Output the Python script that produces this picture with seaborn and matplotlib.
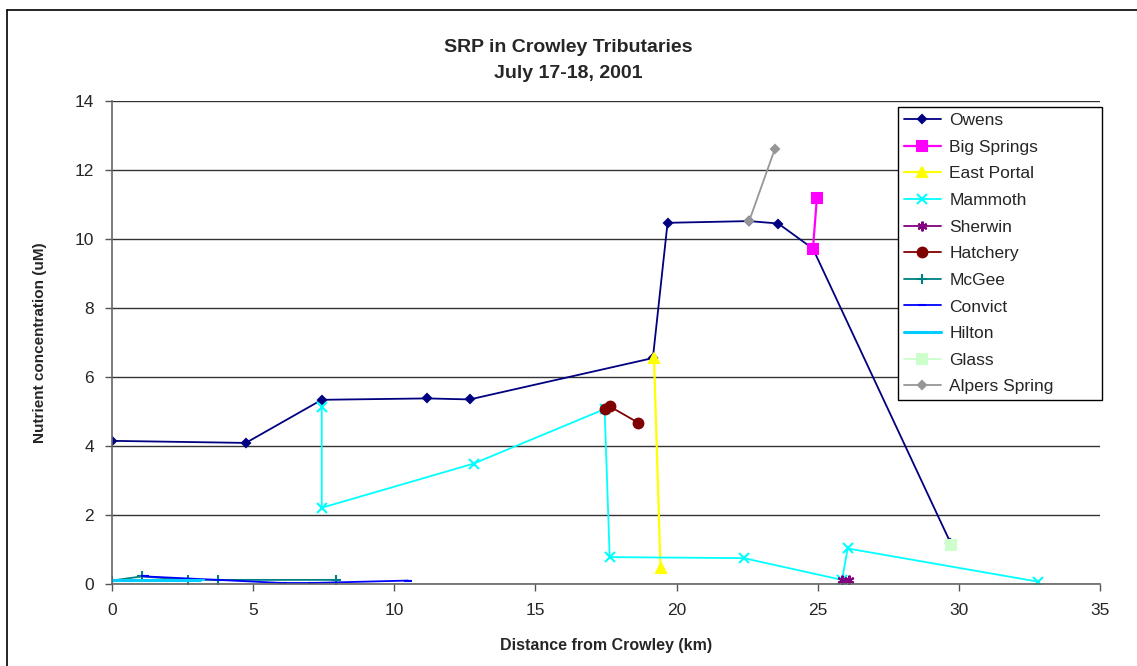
import matplotlib
matplotlib.use("Agg")
import matplotlib.pyplot as plt
import seaborn as sns
import pandas as pd
from matplotlib.lines import Line2D

# Distance from Crowley (km) and SRP (uM) per tributary
owens_x = [0, 4.74, 7.43, 11.17, 12.67, 19.16, 19.68, 22.56, 23.6, 24.83, 29.7]
owens_y = [4.15, 4.09, 5.34, 5.38, 5.35, 6.55, 10.47, 10.52, 10.45, 9.72, 1.2]
big_springs_x = [24.83, 24.97]
big_springs_y = [9.72, 11.2]
east_portal_x = [19.2, 19.43]
east_portal_y = [6.55, 0.46]
mammoth_x = [7.43, 7.43, 12.81, 17.45, 17.63, 22.38, 25.86, 26.06, 32.79]
mammoth_y = [5.13, 2.21, 3.49, 5.07, 0.78, 0.75, 0.12, 1.03, 0.07]
sherwin_x = [25.85, 26.1]
sherwin_y = [0.12, 0.12]
hatchery_x = [17.45, 17.63, 18.65]
hatchery_y = [5.07, 5.15, 4.67]
mcgee_x = [0, 1.05, 2.68, 3.77, 7.95]
mcgee_y = [0.1, 0.22, 0.12, 0.12, 0.12]
convict_x = [1.17, 6.04, 7.07, 10.49]
convict_y = [0.22, 0.03, 0.03, 0.1]
hilton_x = [0, 0.9, 2.1, 3.1]
hilton_y = [0.12, 0.12, 0.12, 0.12]
glass_x = [29.71]
glass_y = [1.12]
alpers_x = [22.57, 23.48]
alpers_y = [10.52, 12.61]

series = [
    ("Owens", owens_x, owens_y, "#000080", "D", 4.5, 1.3),
    ("Big Springs", big_springs_x, big_springs_y, "#FF00FF", "s", 7, 1.6),
    ("East Portal", east_portal_x, east_portal_y, "#FFFF00", "^", 7, 1.6),
    ("Mammoth", mammoth_x, mammoth_y, "#00FFFF", "x", 6.5, 1.3),
    ("Sherwin", sherwin_x, sherwin_y, "#800080", (6, 2, 0), 7, 1.3),
    ("Hatchery", hatchery_x, hatchery_y, "#800000", "o", 7, 1.3),
    ("McGee", mcgee_x, mcgee_y, "#008080", "+", 7, 1.3),
    ("Convict", convict_x, convict_y, "#0000FF", "_", 6, 1.3),
    ("Hilton", hilton_x, hilton_y, "#00CCFF", "_", 7, 2.2),
    ("Glass", glass_x, glass_y, "#CCFFCC", "s", 7, 1.3),
    ("Alpers Spring", alpers_x, alpers_y, "#969696", "D", 4.5, 1.3),
]

sns.set_style("white")
plt.rcParams['font.family'] = ['Liberation Sans', 'DejaVu Sans']

fig = plt.figure(figsize=(11.37, 6.66), dpi=100)
ax = fig.add_axes([0.0985, 0.1231, 0.8690, 0.7252])

for name, xs, ys, col, mk, ms, lw in series:
    df = pd.DataFrame({"x": xs, "y": ys})
    sns.lineplot(data=df, x="x", y="y", ax=ax, sort=False, estimator=None,
                 color=col, marker=mk, markersize=ms, linewidth=lw,
                 markeredgecolor=col, markeredgewidth=1.5, label=name)

ax.set_xlim(0, 35)
ax.set_ylim(0, 14)
ax.set_xticks(range(0, 36, 5))
ax.set_yticks(range(0, 15, 2))
ax.tick_params(axis="both", labelsize=12.5, length=5, width=1, color="#555555",
               direction="out", bottom=True, left=True)
ax.tick_params(axis="x", pad=9)
ax.tick_params(axis="y", pad=8)
ax.yaxis.grid(True, color="#333333", linewidth=1)
ax.set_axisbelow(True)
for s in ["top", "right"]:
    ax.spines[s].set_visible(False)
for s in ["left", "bottom"]:
    ax.spines[s].set_color("#666666")
    ax.spines[s].set_linewidth(1.2)

ax.set_xlabel("Distance from Crowley (km)", fontsize=11.5, fontweight="bold", labelpad=14)
ax.set_ylabel("Nutrient concentration (uM)", fontsize=11, fontweight="bold", labelpad=20)

fig.text(0.5, 0.928, "SRP in Crowley Tributaries", ha="center", va="center",
         fontsize=14, fontweight="bold")
fig.text(0.5, 0.889, "July 17-18, 2001", ha="center", va="center",
         fontsize=14, fontweight="bold")

leg = ax.legend(loc="upper left", bbox_to_anchor=(0.7955, 0.3834, 0.2065, 0.6042),
                mode="expand", fontsize=12.5, frameon=True, fancybox=False,
                edgecolor="black", framealpha=1, borderpad=0.35, labelspacing=0.66,
                handlelength=2.1, handletextpad=0.5, borderaxespad=0)
leg.get_frame().set_linewidth(1)

# outer chart frame (left and top edges visible in the crop)
fig.add_artist(Line2D([7 / 1137, 7 / 1137], [0, 1 - 10 / 666], color="black",
                      linewidth=1.2, transform=fig.transFigure))
fig.add_artist(Line2D([7 / 1137, 1], [1 - 10 / 666, 1 - 10 / 666], color="black",
                      linewidth=1.2, transform=fig.transFigure))

fig.savefig("out.png", dpi=100)
